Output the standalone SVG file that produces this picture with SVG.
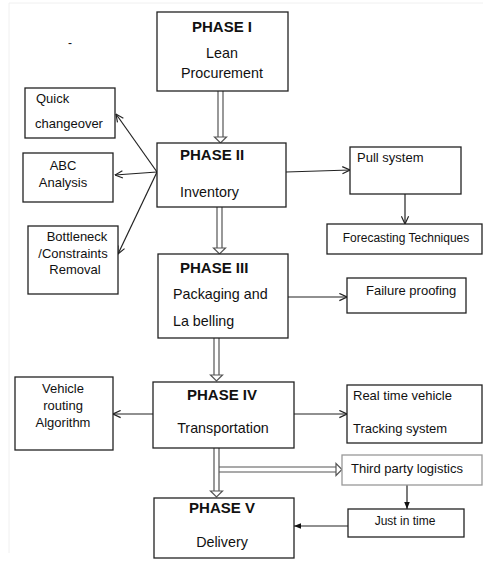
<svg xmlns="http://www.w3.org/2000/svg" width="483" height="563" viewBox="0 0 483 563">
<defs>
<marker id="open" viewBox="0 0 10 10" refX="9.5" refY="5" markerWidth="9" markerHeight="9" markerUnits="userSpaceOnUse" orient="auto">
<path d="M1,1 L9.5,5 L1,9" fill="none" stroke="#222" stroke-width="1.3"/>
</marker>
<marker id="solid" viewBox="0 0 10 10" refX="10" refY="5" markerWidth="7" markerHeight="7" markerUnits="userSpaceOnUse" orient="auto">
<path d="M0,1 L10,5 L0,9 Z" fill="#111"/>
</marker>
</defs>
<style>
.box{fill:#fff;stroke:#222;stroke-width:1.3}
.gbox{fill:#fff;stroke:#999;stroke-width:1.3}
.t{font-family:"Liberation Sans",Arial,sans-serif;font-size:14.3px;fill:#111}
.h{font-family:"Liberation Sans",Arial,sans-serif;font-size:15px;font-weight:bold;fill:#111}
.s{font-family:"Liberation Sans",Arial,sans-serif;font-size:13px;fill:#111}
.xs{font-family:"Liberation Sans",Arial,sans-serif;font-size:12px;fill:#111}
.c{text-anchor:middle}
.ln{stroke:#222;stroke-width:1.2;fill:none}
.dl{stroke:#555;stroke-width:1.2;fill:none}
.dh{stroke:#555;stroke-width:1.2;fill:#fff}
</style>
<rect x="0" y="0" width="483" height="563" fill="#fff"/>
<path d="M9,3 H483 M9,3 V553" stroke="#f0f0f0" stroke-width="1" fill="none"/>
<text x="70" y="47" class="xs c">-</text>

<g id="connectors">
<path class="dl" d="M218,91 V137 M223,91 V137"/>
<path class="dh" d="M214.5,137 L226.5,137 L220.5,143 Z"/>
<path class="dl" d="M217,207 V248 M222,207 V248"/>
<path class="dh" d="M213.5,248 L225.5,248 L219.5,254 Z"/>
<path class="dl" d="M214,338 V375 M219,338 V375"/>
<path class="dh" d="M210.5,375 L222.5,375 L216.5,381 Z"/>
<path class="dl" d="M214,448 V491 M219,448 V491"/>
<path class="dh" d="M210.5,491 L222.5,491 L216.5,497 Z"/>
<path class="dl" d="M219,467 H336 M219,472 H336"/>
<path class="dh" d="M336,463.5 L336,475.5 L342,469.5 Z"/>
<path class="ln" d="M157,172 L116,114" marker-end="url(#open)"/>
<path class="ln" d="M157,172 L115,175" marker-end="url(#open)"/>
<path class="ln" d="M157,172 L118,254" marker-end="url(#open)"/>
<path class="ln" d="M286,172 L350,170" marker-end="url(#open)"/>
<path class="ln" d="M405,194 V224" marker-end="url(#open)"/>
<path class="ln" d="M288,297 H347" marker-end="url(#open)"/>
<path class="ln" d="M153,414 H113" marker-end="url(#open)"/>
<path class="ln" d="M294,414 H347" marker-end="url(#open)"/>
<path class="ln" d="M407,485 V509" marker-end="url(#solid)"/>
<path class="ln" d="M348,526 H294" marker-end="url(#solid)"/>
</g>

<g id="phase1">
<rect class="box" x="157" y="12" width="131" height="79"/>
<text x="222" y="32" class="h c">PHASE I</text>
<text x="222" y="58" class="t c">Lean</text>
<text x="222" y="78" class="t c">Procurement</text>
</g>
<g id="phase2">
<rect class="box" x="157" y="143" width="129" height="64"/>
<text x="180" y="160" class="h">PHASE II</text>
<text x="180" y="197" class="t">Inventory</text>
</g>
<g id="phase3">
<rect class="box" x="158" y="254" width="130" height="84"/>
<text x="180" y="273" class="h">PHASE III</text>
<text x="173" y="299" class="t">Packaging and</text>
<text x="173" y="326" class="t">La belling</text>
</g>
<g id="phase4">
<rect class="box" x="153" y="382" width="141" height="66"/>
<text x="222" y="400" class="h c">PHASE IV</text>
<text x="223" y="433" class="t c">Transportation</text>
</g>
<g id="phase5">
<rect class="box" x="154" y="498" width="140" height="60"/>
<text x="222" y="513" class="h c">PHASE V</text>
<text x="222" y="547" class="t c">Delivery</text>
</g>
<g id="quick">
<rect class="box" x="25" y="88" width="90" height="50"/>
<text x="36" y="103" class="s">Quick</text>
<text x="35" y="128" class="s">changeover</text>
</g>
<g id="abc">
<rect class="box" x="23" y="153" width="90" height="49"/>
<text x="63" y="170" class="s c">ABC</text>
<text x="63" y="187" class="s c">Analysis</text>
</g>
<g id="bottleneck">
<rect class="box" x="28" y="226" width="90" height="68"/>
<text x="77" y="241" class="s c">Bottleneck</text>
<text x="73" y="258" class="s c">/Constraints</text>
<text x="75" y="274" class="s c">Removal</text>
</g>
<g id="pull">
<rect class="box" x="350" y="147" width="111" height="47"/>
<text x="357" y="162" class="s">Pull system</text>
</g>
<g id="forecasting">
<rect class="box" x="327" y="224" width="155" height="30"/>
<text x="406" y="242" class="xs c">Forecasting Techniques</text>
</g>
<g id="failure">
<rect class="box" x="347" y="278" width="119" height="35"/>
<text x="366" y="295" class="s">Failure proofing</text>
</g>
<g id="vehicle">
<rect class="box" x="15" y="377" width="98" height="73"/>
<text x="63" y="393" class="s c">Vehicle</text>
<text x="63" y="410" class="s c">routing</text>
<text x="63" y="427" class="s c">Algorithm</text>
</g>
<g id="realtime">
<rect class="box" x="347" y="385" width="135" height="58"/>
<text x="353" y="400" class="s">Real time vehicle</text>
<text x="353" y="433" class="s">Tracking system</text>
</g>
<g id="thirdparty">
<rect class="gbox" x="342" y="455" width="140" height="30"/>
<text x="407" y="473" class="s c">Third party logistics</text>
</g>
<g id="jit">
<rect class="box" x="348" y="509" width="116" height="28"/>
<text x="405" y="525" class="xs c">Just in time</text>
</g>
</svg>
